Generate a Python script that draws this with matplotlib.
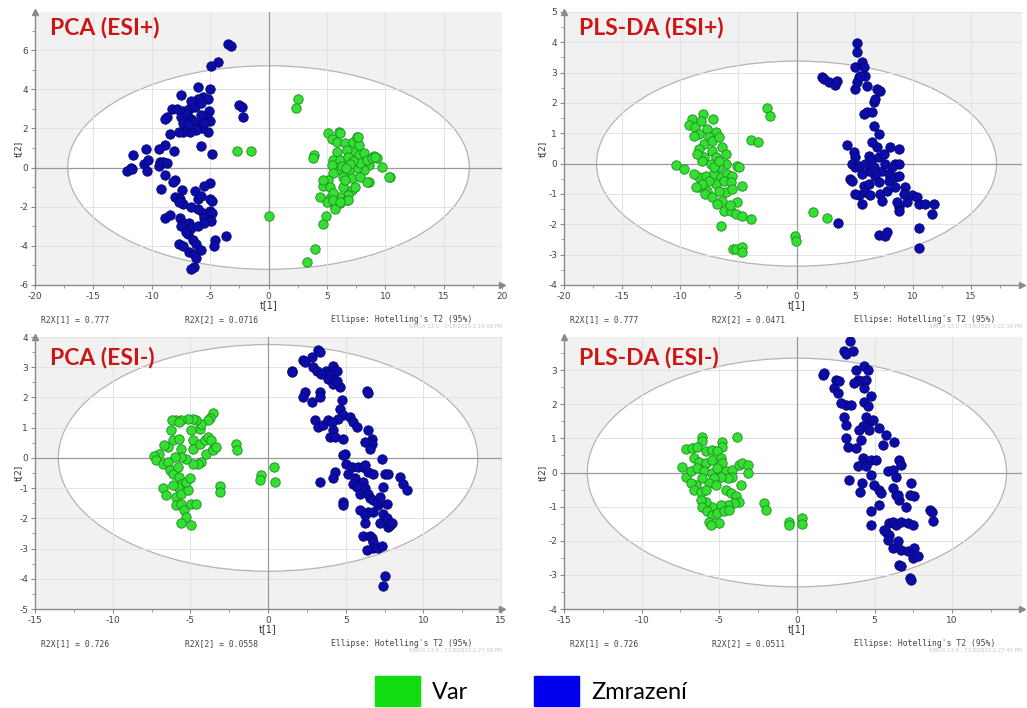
import numpy as np
import matplotlib
matplotlib.use('Agg')
import matplotlib.pyplot as plt
from matplotlib.patches import Ellipse, Patch
from matplotlib.ticker import MultipleLocator, AutoMinorLocator
import matplotlib.transforms as mtransforms

plt.rcParams['axes.unicode_minus'] = False

# ---- score values t[1], t[2] ----
pca_pos_zmr = [
    (-3.5, 6.3), (-3.2, 6.2), (-4.3, 5.4), (-4.9, 5.2),
    (-6.0, 4.1), (-5.0, 4.0), (-5.6, 3.6), (-6.0, 3.5), (-5.2, 3.5), (-7.5, 3.7),
    (-8.3, 3.0), (-7.8, 3.0), (-7.3, 2.9), (-6.8, 3.0), (-6.3, 3.1), (-5.8, 3.3),
    (-5.1, 2.9), (-5.3, 2.6), (-5.0, 2.4), (-5.2, 1.8), (-8.7, 2.6), (-8.9, 2.5),
    (-7.5, 2.6), (-7.0, 2.7), (-6.6, 2.5), (-6.0, 2.2), (-5.7, 2.0), (-6.2, 1.9),
    (-6.7, 1.8), (-7.3, 1.8), (-7.7, 1.8), (-8.4, 1.7), (-6.5, 2.4), (-7.3, 2.3),
    (-6.9, 2.2), (-5.5, 2.3), (-5.8, 2.7), (-6.6, 3.4),
    (-2.5, 3.2), (-2.3, 3.1), (-2.2, 2.6),
    (-5.8, 1.1), (-4.8, 0.7), (-10.5, 0.95), (-11.6, 0.65), (-11.8, 0.0),
    (-12.1, -0.2), (-11.7, -0.05), (-10.7, 0.2), (-10.3, 0.4), (-10.4, -0.2),
    (-9.3, 0.3), (-9.4, 0.1), (-9.0, 0.3), (-8.7, 0.25), (-8.1, 0.85), (-8.9, 1.15),
    (-9.4, 0.95), (-8.9, -0.4), (-8.0, -0.65), (-8.2, -0.75),
    (-5.0, -0.8), (-5.5, -0.95), (-9.2, -1.1), (-7.4, -1.15), (-6.3, -1.2),
    (-6.0, -1.6), (-5.0, -1.6), (-4.8, -1.7), (-8.0, -1.5), (-7.6, -1.6),
    (-7.3, -1.85), (-7.7, -1.75), (-5.6, -2.3), (-5.0, -2.2), (-4.8, -2.3),
    (-6.0, -2.1), (-5.5, -2.6), (-5.0, -2.7), (-4.9, -2.75), (-8.9, -2.6),
    (-8.4, -2.4), (-7.6, -2.6), (-7.3, -2.85), (-6.8, -2.85), (-6.6, -3.1),
    (-6.9, -3.4), (-7.5, -3.0), (-7.1, -3.3), (-7.7, -3.9), (-7.3, -4.0),
    (-6.5, -3.7), (-6.2, -3.9), (-6.8, -4.3), (-6.4, -4.4), (-6.2, -4.6),
    (-5.8, -4.2), (-6.4, -5.1), (-6.6, -5.2), (-4.6, -3.7), (-4.7, -4.0),
    (-3.6, -3.5), (-6.0, -3.0), (-5.5, -2.85), (-5.8, -1.45), (-6.6, -2.0),
]
pca_pos_var = [
    (2.55, 3.52), (2.35, 3.06), (-2.66, 0.87), (-1.52, 0.84), (0.0, -2.46),
    (3.95, -4.14), (3.3, -4.82), (4.96, -2.48), (4.7, -2.9), (3.9, 0.62), (3.78, 0.48),
    (5.13, 1.76), (6.07, 1.81), (5.42, 1.45), (5.85, 1.33), (6.56, 1.25), (7.28, 1.33),
    (7.56, 1.56), (7.79, 1.16), (7.28, 0.82), (6.7, 0.91), (5.85, 0.82), (5.56, 0.39),
    (5.42, 0.14), (6.13, 0.39), (6.85, 0.56), (7.71, 0.65), (8.14, 0.74), (9.0, 0.6),
    (9.28, 0.48), (9.71, 0.05), (10.37, -0.46), (8.57, 0.14), (8.14, -0.12),
    (7.56, -0.03), (6.93, -0.12), (6.13, -0.12), (5.56, -0.29), (6.36, -0.46),
    (7.13, -0.55), (7.85, -0.46), (8.57, -0.72), (5.13, -0.63), (4.7, -0.94),
    (4.64, -0.63), (5.27, -1.01), (6.42, -0.97), (7.13, -1.15), (7.42, -0.97),
    (6.85, -1.4), (6.13, -1.49), (5.27, -1.57), (4.99, -1.74), (5.7, -2.0),
    (6.13, -1.83), (6.7, -1.66), (5.56, -1.32), (6.56, -0.63), (7.85, 0.22),
    (8.42, 0.39), (8.85, 0.48), (7.28, 0.31), (6.27, 0.09), (6.13, 1.74),
    (7.7, 1.57), (9.1, 0.55), (10.3, -0.48), (5.56, -1.67), (6.85, -1.67),
    (8.4, -0.73), (4.4, -1.5), (5.7, -2.1), (6.1, -1.76), (7.0, 0.2), (6.6, 0.0),
]

pls_pos_var = [
    (-2.52, 1.82), (-2.29, 1.56), (-3.93, 0.79), (-3.3, 0.7), (-10.34, -0.03),
    (-9.68, -0.18), (1.43, -1.58), (2.58, -1.8), (-0.09, -2.4), (-0.03, -2.54),
    (-6.53, -2.04), (-5.47, -2.81), (-5.24, -2.81), (-4.73, -2.76), (-4.67, -2.92),
    (-3.95, -1.82),
    (-8.05, 1.64), (-8.97, 1.47), (-9.25, 1.29), (-8.74, 1.2), (-8.25, 1.42),
    (-7.68, 1.14), (-7.16, 1.47), (-6.91, 1.03), (-7.54, 0.87), (-8.4, 0.98),
    (-8.83, 0.92), (-7.97, 0.65), (-8.4, 0.48), (-7.25, 0.76), (-6.68, 0.87),
    (-6.39, 0.54), (-7.25, 0.43), (-7.97, 0.21), (-6.96, 0.21), (-6.1, 0.32),
    (-6.1, -0.01), (-6.68, -0.12), (-7.39, -0.01), (-8.11, 0.1), (-8.4, -0.45),
    (-7.82, -0.4), (-7.11, -0.34), (-6.53, -0.45), (-5.96, -0.34), (-5.53, -0.4),
    (-5.1, -0.07), (-4.96, -0.12), (-8.4, -0.78), (-7.68, -0.89), (-6.96, -0.67),
    (-6.25, -0.56), (-5.67, -0.62), (-4.73, -0.75), (-7.88, -1.0), (-7.25, -1.11),
    (-6.39, -1.22), (-6.1, -0.95), (-6.88, -1.33), (-6.25, -1.55), (-5.67, -1.55),
    (-5.1, -1.27), (-5.19, -1.66), (-4.67, -1.71), (-5.76, -1.38), (-7.11, -0.12),
    (-8.54, 0.32), (-6.68, 0.1), (-7.54, -0.56), (-8.11, -0.67), (-8.83, -0.34),
    (-8.68, -0.78), (-6.68, -0.89), (-5.53, -0.84),
]
pls_pos_zmr = [
    (5.21, 3.97), (5.21, 3.69), (5.01, 3.2), (5.64, 3.34), (5.79, 3.18), (5.36, 2.85),
    (5.93, 2.9), (6.07, 2.57), (5.07, 2.46), (5.21, 2.68), (5.5, 2.9), (2.21, 2.85),
    (2.35, 2.79), (2.78, 2.68), (3.35, 2.6), (3.5, 2.71), (6.93, 2.46), (7.22, 2.38),
    (6.65, 2.02), (6.79, 2.13), (5.79, 1.64), (6.07, 1.69), (6.5, 1.69), (6.65, 1.25),
    (7.08, 0.98), (4.36, 0.63), (4.93, 0.37), (5.07, 0.21), (4.79, -0.01), (5.07, -0.12),
    (5.36, -0.07), (6.22, 0.26), (6.5, 0.15), (7.08, 0.21), (7.51, 0.32), (8.08, 0.54),
    (8.8, 0.48), (8.51, -0.01), (8.8, -0.01), (7.94, -0.34), (7.36, -0.23), (6.79, -0.4),
    (6.22, -0.23), (5.64, -0.34), (4.64, -0.51), (4.79, -0.56), (5.79, -0.73),
    (6.22, -0.67), (7.08, -0.62), (7.94, -0.56), (8.51, -0.45), (8.8, -0.4),
    (5.93, -0.95), (5.36, -1.05), (5.07, -1.0), (5.64, -1.33), (6.36, -1.05),
    (7.22, -1.0), (7.36, -1.22), (7.79, -0.89), (8.51, -0.78), (9.37, -0.78),
    (9.23, -1.0), (9.94, -1.05), (10.37, -1.11), (10.52, -1.33), (11.09, -1.33),
    (11.81, -1.33), (11.66, -1.66), (9.51, -1.27), (8.8, -1.44), (8.8, -1.55),
    (8.65, -1.27), (10.52, -2.12), (10.52, -2.78), (7.08, -2.34), (7.65, -2.37),
    (7.79, -2.26), (3.58, -1.97), (5.93, -0.01), (6.65, -0.12), (7.65, -0.01),
    (8.22, -0.12), (6.93, 0.54), (6.5, 0.7),
]

pca_neg_var = [
    (-3.55, 1.48), (-3.76, 1.33), (-3.87, 1.24), (-4.41, 0.97), (-4.3, 1.13),
    (-4.62, 1.24), (-4.84, 1.3), (-5.16, 1.3), (-5.59, 1.24), (-5.91, 1.26),
    (-6.17, 1.24), (-5.7, 1.19), (-6.24, 0.91), (-6.13, 0.58), (-5.7, 0.64),
    (-5.59, 0.31), (-4.95, 0.91), (-4.84, 0.58), (-4.84, 0.31), (-4.41, 0.47),
    (-4.09, 0.58), (-3.87, 0.69), (-3.66, 0.58), (-3.55, 0.31), (-3.98, 0.14),
    (-4.3, -0.13), (-4.52, -0.19), (-4.84, -0.19), (-5.27, -0.02), (-5.59, 0.03),
    (-6.02, 0.03), (-6.45, 0.36), (-6.67, 0.42), (-6.99, 0.14), (-7.31, 0.05),
    (-7.2, -0.08), (-6.77, -0.19), (-6.45, -0.13), (-6.34, -0.41), (-6.13, -0.52),
    (-5.81, -0.3), (-5.7, -0.63), (-5.59, -0.85), (-5.81, -0.96), (-6.13, -0.9),
    (-6.77, -1.01), (-6.56, -1.23), (-5.91, -1.29), (-5.59, -1.18), (-5.16, -1.07),
    (-5.27, -0.79), (-5.05, -0.68), (-5.91, -1.56), (-5.59, -1.51), (-5.38, -1.73),
    (-4.95, -1.51), (-4.62, -1.51), (-5.27, -1.95), (-4.95, -2.22), (-5.59, -2.16),
    (-3.55, 0.25), (-3.33, 0.36), (-2.09, 0.47), (-1.98, 0.25), (-3.12, -0.92),
    (-3.08, -1.12), (-0.43, -0.57), (-0.49, -0.74), (0.37, -0.3), (0.43, -0.8),
]
pca_neg_zmr = [
    (1.57, 2.87), (1.51, 2.84), (2.26, 3.24), (2.8, 3.35), (3.23, 3.57), (3.33, 3.49),
    (2.37, 3.16), (2.9, 3.0), (3.12, 2.89), (3.76, 2.89), (4.09, 2.78), (4.19, 3.05),
    (4.41, 2.89), (3.87, 2.62), (4.19, 2.45), (4.62, 2.34), (4.41, 2.56), (3.44, 2.78),
    (3.33, 2.18), (2.37, 2.18), (2.26, 2.01), (2.8, 1.85), (3.33, 2.01), (4.73, 1.9),
    (4.62, 1.63), (4.84, 1.41), (4.52, 1.3), (5.27, 1.35), (5.48, 1.19), (5.7, 1.02),
    (3.01, 1.24), (3.23, 1.02), (3.55, 1.08), (3.87, 1.24), (4.09, 1.19), (4.19, 0.91),
    (3.98, 0.69), (4.3, 0.69), (4.84, 0.64), (4.95, 0.14), (4.84, 0.09), (4.3, -0.46),
    (4.19, -0.68), (3.33, -0.79), (4.84, -1.45), (4.84, -1.56), (5.05, -0.19),
    (5.38, -0.3), (5.16, -0.52), (5.59, -0.68), (5.48, -0.85), (5.81, -0.3),
    (6.13, -0.3), (6.24, -0.24), (6.45, -0.46), (6.77, -0.52), (5.91, -0.85),
    (6.13, -0.79), (5.7, -0.96), (5.91, -1.18), (6.24, -1.01), (6.45, -1.18),
    (6.56, -1.34), (6.77, -1.4), (7.1, -1.56), (7.42, -0.96), (7.53, -0.52),
    (7.74, -0.52), (7.31, -0.02), (6.45, 0.91), (6.67, 0.64), (6.67, 0.47),
    (6.56, 0.31), (6.24, 0.53), (6.34, 2.23), (6.45, 2.15), (8.49, -0.63),
    (8.71, -0.85), (8.92, -1.07), (6.24, -2.16), (6.13, -2.6), (6.56, -2.6),
    (6.67, -2.66), (6.77, -2.77), (6.77, -2.99), (7.1, -2.99), (7.31, -2.93),
    (6.34, -3.04), (6.45, -1.78), (6.77, -1.78), (7.2, -2.16), (7.42, -1.84),
    (7.63, -2.0), (7.74, -2.27), (7.85, -2.22), (7.96, -2.16), (6.99, -1.45),
    (7.63, -1.51), (7.2, -1.29), (7.53, -3.92), (7.42, -4.25), (5.91, -1.73),
    (6.24, -1.89),
]

pls_neg_var = [
    (-6.09, 1.04), (-6.13, 0.91), (-3.87, 1.03), (-4.84, 0.88), (-4.8, 0.74),
    (-7.16, 0.69), (-6.73, 0.71), (-6.41, 0.76), (-5.87, 0.62), (-5.44, 0.66),
    (-5.12, 0.62), (-6.62, 0.42), (-6.3, 0.32), (-5.87, 0.27), (-5.44, 0.37),
    (-4.9, 0.42), (-4.8, 0.27), (-7.38, 0.15), (-7.16, -0.12), (-6.84, 0.03),
    (-6.41, 0.13), (-5.98, 0.03), (-5.44, -0.02), (-5.12, 0.13), (-4.58, 0.03),
    (-4.15, 0.08), (-3.72, 0.22), (-3.55, 0.27), (-3.12, 0.22), (-3.12, 0.0),
    (-3.61, -0.36), (-4.15, -0.12), (-4.47, -0.17), (-4.9, -0.12), (-5.33, -0.17),
    (-5.66, -0.31), (-6.09, -0.17), (-6.52, -0.36), (-6.84, -0.31), (-6.62, -0.51),
    (-6.19, -0.56), (-5.87, -0.51), (-5.23, -0.36), (-4.58, -0.51), (-4.26, -0.61),
    (-3.94, -0.7), (-3.72, -0.85), (-4.04, -0.9), (-4.47, -0.95), (-4.9, -0.95),
    (-5.44, -1.0), (-5.87, -0.85), (-6.19, -0.8), (-6.09, -1.0), (-5.76, -1.14),
    (-5.44, -1.24), (-5.12, -1.19), (-4.69, -1.14), (-4.37, -1.09), (-5.66, -1.44),
    (-5.01, -1.48), (-5.55, -1.53), (-2.11, -0.9), (-2.0, -1.09), (-0.54, -1.44),
    (-0.49, -1.55), (0.32, -1.32), (0.32, -1.51),
]
pls_neg_zmr = [
    (3.42, 3.84), (3.05, 3.55), (3.59, 3.57), (3.16, 3.48), (1.66, 2.86), (1.76, 2.93),
    (2.52, 2.71), (2.73, 2.67), (2.41, 2.47), (2.62, 2.32), (3.81, 3.01), (4.34, 3.11),
    (4.56, 3.01), (3.91, 2.71), (4.13, 2.67), (4.45, 2.71), (3.7, 2.62), (4.34, 2.47),
    (4.77, 2.23), (4.34, 2.08), (4.56, 1.95), (3.16, 1.98), (3.48, 1.98), (2.84, 2.03),
    (3.05, 1.64), (3.16, 1.4), (4.45, 1.64), (4.67, 1.49), (4.88, 1.54), (4.24, 1.35),
    (4.67, 1.25), (5.31, 1.3), (5.74, 1.1), (5.53, 0.81), (6.28, 0.88), (3.16, 1.01),
    (3.27, 0.76), (3.81, 0.71), (4.13, 0.96), (4.02, 1.25), (4.24, 0.42), (4.34, 0.27),
    (4.77, 0.37), (5.1, 0.37), (3.91, 0.18), (4.45, 0.18), (5.85, 0.03), (6.17, 0.08),
    (6.6, 0.37), (6.71, 0.22), (6.39, -0.12), (3.33, -0.21), (4.17, -0.31),
    (4.06, -0.56), (4.77, -0.07), (4.99, -0.36), (5.31, -0.51), (5.42, -0.61),
    (6.17, -0.46), (6.39, -0.65), (6.6, -0.8), (6.49, -0.65), (7.03, -1.0),
    (7.25, -0.65), (7.35, -0.31), (7.57, -0.7), (5.31, -0.95), (4.77, -1.14),
    (4.77, -1.53), (5.96, -1.48), (6.17, -1.44), (6.39, -1.53), (6.71, -1.44),
    (7.14, -1.48), (7.46, -1.53), (8.54, -1.09), (8.71, -1.17), (8.75, -1.41),
    (5.74, -1.73), (5.96, -1.83), (6.17, -2.22), (6.49, -2.02), (6.71, -2.27),
    (7.14, -2.31), (7.46, -2.51), (7.78, -2.46), (7.57, -2.22), (6.6, -2.71),
    (6.71, -2.75), (7.25, -3.1), (7.35, -3.14), (5.63, -1.68), (5.85, -1.97),
]

titles = ['PCA (ESI+)', 'PLS-DA (ESI+)', 'PCA (ESI-)', 'PLS-DA (ESI-)']
r2x_1 = ['0.777', '0.777', '0.726', '0.726']
r2x_2 = ['0.0716', '0.0471', '0.0558', '0.0511']
stamps = ['2:19:06 PM', '2:21:19 PM', '2:27:00 PM', '2:27:45 PM']
# Hotelling's T2 (95%) ellipse semi-axes
ell_a = [17.2, 17.2, 13.5, 13.5]
ell_b = [5.2, 3.38, 3.75, 3.35]
group_names = ['Var', 'Zmrazení']

GREEN = '#33df33'
GREEN_E = '#1e8a1e'
BLUE = '#0c0caa'
BLUE_E = '#050570'

fig = plt.figure(figsize=(10.27, 7.08), dpi=100)
fig.patch.set_facecolor('white')

boxes = [
    [0.0341, 0.5975, 0.4547, 0.3856],
    [0.5492, 0.5975, 0.4460, 0.3856],
    [0.0341, 0.1398, 0.4547, 0.3842],
    [0.5492, 0.1398, 0.4460, 0.3842],
]
xlims = [(-20, 20), (-20, 19.4), (-15, 15.06), (-15, 14.5)]
ylims = [(-6, 7.95), (-4, 5.0), (-5, 4.0), (-4, 3.97)]
xsteps = [5, 5, 5, 5]
ysteps = [2, 1, 1, 1]
title_y = [0.943, 0.943, 0.926, 0.926]
ylab_x = [-0.036, -0.048, -0.036, -0.048]

panels = [(pca_pos_var, pca_pos_zmr), (pls_pos_var, pls_pos_zmr),
          (pca_neg_var, pca_neg_zmr), (pls_neg_var, pls_neg_zmr)]

for i, (var, zmr) in enumerate(panels):
    ax = fig.add_axes(boxes[i])
    ax.set_facecolor('#f1f1f1')
    ax.set_xlim(*xlims[i])
    ax.set_ylim(*ylims[i])

    ax.add_patch(Ellipse((0, 0), 2 * ell_a[i], 2 * ell_b[i], facecolor='white',
                         edgecolor='#b4b4b4', linewidth=0.9, zorder=1))
    ax.grid(True, color='#e2e2e2', linewidth=0.7)
    ax.axhline(0, color='#9a9a9a', linewidth=0.9, zorder=1.6)
    ax.axvline(0, color='#9a9a9a', linewidth=0.9, zorder=1.6)

    v = np.array(var)
    z = np.array(zmr)
    ax.scatter(z[:, 0], z[:, 1], s=46, c=BLUE, edgecolors=BLUE_E, linewidths=0.6, zorder=3)
    ax.scatter(v[:, 0], v[:, 1], s=46, c=GREEN, edgecolors=GREEN_E, linewidths=0.6, zorder=3)

    ax.xaxis.set_major_locator(MultipleLocator(xsteps[i]))
    ax.yaxis.set_major_locator(MultipleLocator(ysteps[i]))
    ax.xaxis.set_minor_locator(AutoMinorLocator(2))
    ax.yaxis.set_minor_locator(AutoMinorLocator(2))
    ax.tick_params(which='both', colors='#8a8a8a', labelcolor='#444444',
                   labelsize=6.5, direction='out', pad=2)
    ax.tick_params(which='major', length=3)
    ax.tick_params(which='minor', length=2)

    for side in ['top', 'right']:
        ax.spines[side].set_visible(False)
    for side in ['left', 'bottom']:
        ax.spines[side].set_color('#8a8a8a')
        ax.spines[side].set_linewidth(1.0)
    ax.plot(1, 0, '>', color='#8a8a8a', markersize=5, transform=ax.transAxes, clip_on=False)
    ax.plot(0, 1, '^', color='#8a8a8a', markersize=5, transform=ax.transAxes, clip_on=False)

    trans = mtransforms.blended_transform_factory(ax.transData, ax.transAxes)
    ax.text(0, -0.075, 't[1]', transform=trans, ha='center', va='center',
            fontsize=7, color='#333333')
    ax.text(ylab_x[i], 0.5, 't[2]', transform=ax.transAxes, rotation=90,
            ha='center', va='center', fontsize=6.5, color='#333333')

    ax.text(0.032, title_y[i], titles[i], transform=ax.transAxes, ha='left', va='center',
            fontsize=16.5, fontweight='bold', color='#cc1616', family='Lato')

    mono = dict(transform=ax.transAxes, va='center', fontsize=5.8,
                family='DejaVu Sans Mono', color='#444444')
    ax.text(0.013, -0.128, 'R2X[1] = ' + r2x_1[i], **mono)
    ax.text(0.322, -0.128, 'R2X[2] = ' + r2x_2[i], **mono)
    ax.text(0.634, -0.128, "Ellipse: Hotelling's T2 (95%)", **mono)
    ax.text(1.0, -0.15, 'SIMCA 13.0 - 7/18/2025 ' + stamps[i], transform=ax.transAxes,
            ha='right', va='center', fontsize=3.8, color='#c4c4c4')

handles = [Patch(facecolor='#11dd11', edgecolor='#11dd11'),
           Patch(facecolor='#0000ee', edgecolor='#0000ee')]
fig.legend(handles, group_names, loc='lower center', bbox_to_anchor=(0.517, -0.014),
           ncol=2, frameon=False, prop={'family': 'Lato', 'size': 17},
           handlelength=1.9, handleheight=1.6, handletextpad=0.5, columnspacing=2.8,
           borderpad=0.0)

fig.savefig('out.png', dpi=100, facecolor='white')
